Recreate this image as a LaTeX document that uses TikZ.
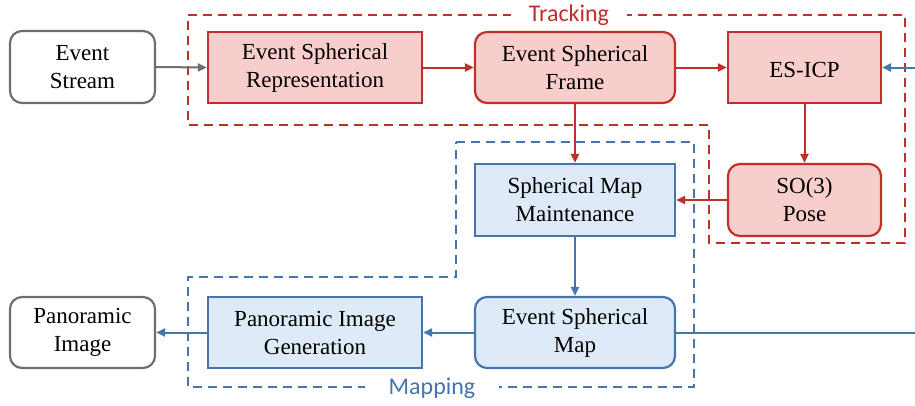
\documentclass[tikz,border=0pt]{standalone}
\usepackage{fontspec}
\setmainfont{Liberation Serif}
\newfontfamily\labelfont{Carlito}
\usetikzlibrary{arrows.meta}
\definecolor{rstroke}{RGB}{192,48,42}
\definecolor{rfill}{HTML}{F8CECC}
\definecolor{bstroke}{RGB}{70,116,172}
\definecolor{bfill}{HTML}{DEEAF7}
\definecolor{gstroke}{RGB}{110,110,110}
\tikzset{
  box/.style={draw, line width=2.2pt, align=center, inner sep=0pt,
    font=\fontsize{23}{28}\selectfont, text=black,
    execute at begin node={\rule{0pt}{20.5pt}}},
  redbox/.style={box, draw=rstroke, fill=rfill},
  bluebox/.style={box, draw=bstroke, fill=bfill},
  graybox/.style={box, draw=gstroke, fill=white},
  rnd/.style={rounded corners=12pt},
  conn/.style={line width=2pt, -{Triangle[length=9pt,width=8pt]}},
  redarrow/.style={conn, draw=rstroke},
  bluearrow/.style={conn, draw=bstroke},
  grayarrow/.style={conn, draw=gstroke},
  region/.style={line width=2pt, dash pattern=on 9pt off 6pt},
  grouplabel/.style={font=\labelfont\fontsize{24}{28}\selectfont, fill=white, inner ysep=2pt}
}
\begin{document}
\begin{tikzpicture}[x=1pt,y=-1pt]
\useasboundingbox (0,0) rectangle (915,405);
\clip (0,0) rectangle (915,405);
% regions
\draw[region, draw=rstroke] (188,15) -- (905,15) -- (905,243) -- (709,243) -- (709,125) -- (188,125) -- cycle;
\draw[region, draw=bstroke] (456,142) -- (694,142) -- (694,387) -- (188,387) -- (188,277) -- (456,277) -- cycle;
\node[grouplabel, text=rstroke, inner xsep=18pt] (tracklbl) at (569,15.5) {Tracking};
\node[grouplabel, text=bstroke, inner xsep=24pt] (maplbl) at (432,388.5) {Mapping};
% nodes
\node[graybox, rnd, minimum width=145pt, minimum height=72pt] (es) at (82.5,67) {Event\\Stream};
\node[redbox, minimum width=214pt, minimum height=71pt] (esr) at (315,67.5) {Event Spherical\\Representation};
\node[redbox, rnd, minimum width=200pt, minimum height=71pt] (esf) at (575,67.5) {Event Spherical\\Frame};
\node[redbox, minimum width=153pt, minimum height=71pt, execute at begin node={}] (icp) at (804.5,67.5) {ES-ICP};
\node[redbox, rnd, minimum width=153pt, minimum height=72pt] (pose) at (804.5,200) {SO(3)\\Pose};
\node[bluebox, minimum width=200pt, minimum height=72pt] (smm) at (575,200) {Spherical Map\\Maintenance};
\node[bluebox, rnd, minimum width=200pt, minimum height=71pt] (esm) at (575,332.5) {Event Spherical\\Map};
\node[bluebox, minimum width=214pt, minimum height=71pt] (pig) at (315,332.5) {Panoramic Image\\Generation};
\node[graybox, rnd, minimum width=145pt, minimum height=71pt] (pi) at (82.5,332.5) {Panoramic\\Image};
\coordinate (loopr) at (940,332.5);
% connectors
\draw[grayarrow] (es.east) -- (esr.west);
\draw[redarrow] (esr.east) -- (esf.west);
\draw[redarrow] (esf.east) -- (icp.west);
\draw[redarrow] (icp.south) -- (pose.north);
\draw[redarrow] (pose.west) -- (smm.east);
\draw[redarrow] (esf.south) -- (smm.north);
\draw[bluearrow] (smm.south) -- (esm.north);
\draw[bluearrow] (esm.west) -- (pig.east);
\draw[bluearrow] (pig.west) -- (pi.east);
\draw[bluearrow] (esm.east) -- (loopr) |- (icp.east);
\end{tikzpicture}
\end{document}
